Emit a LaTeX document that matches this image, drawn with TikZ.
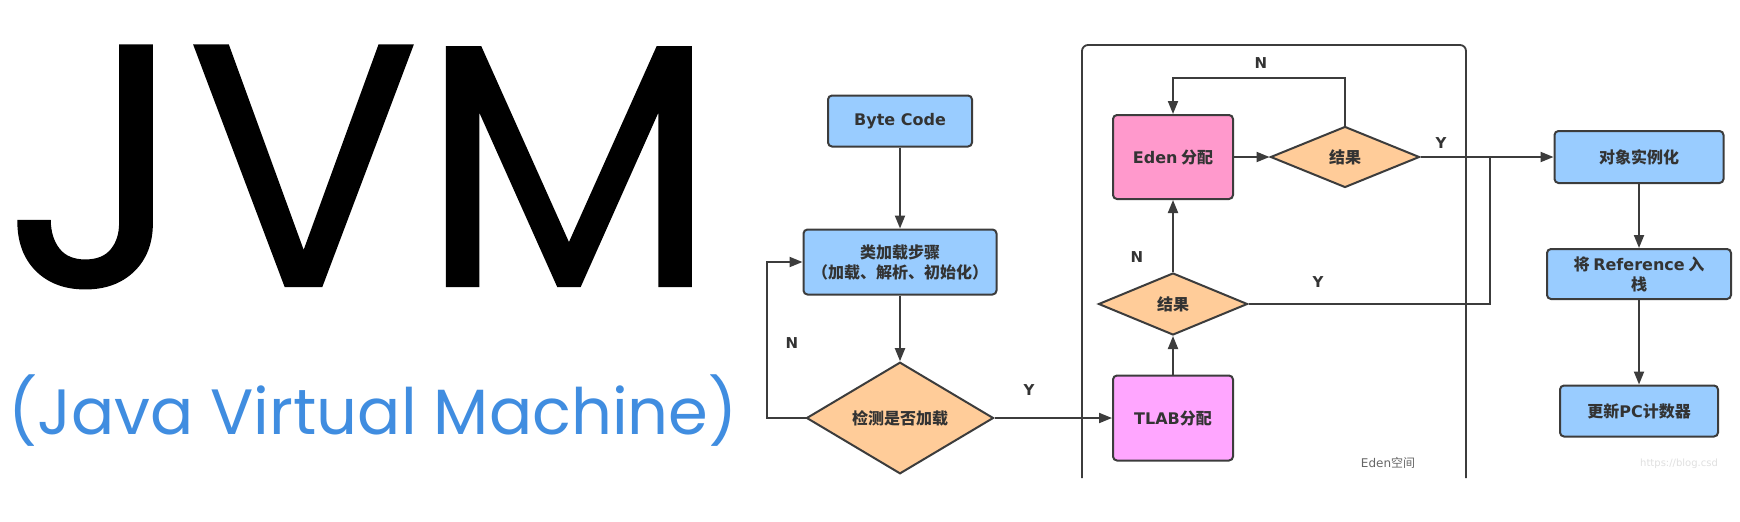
\documentclass[tikz,border=0pt]{standalone}
\usepackage{fontspec}
\usepackage{xcolor}
\usepackage{tikz}
\usetikzlibrary{shapes.geometric,arrows.meta}
\setmainfont{Poppins}
\newfontfamily\cjk{Noto Sans CJK SC}
\newfontfamily\lat{DejaVu Sans}
\newfontfamily\titlefont{Poppins}
\newfontfamily\jvmfont{Poppins}[FakeBold=0.6]

\definecolor{boxblue}{RGB}{153,204,255}
\definecolor{diaorange}{RGB}{255,204,153}
\definecolor{edenpink}{RGB}{255,153,204}
\definecolor{tlabpink}{RGB}{255,166,255}
\definecolor{linegray}{RGB}{60,60,60}
\definecolor{titleblue}{RGB}{64,141,224}

\begin{document}
\begin{tikzpicture}[x=1pt,y=-1pt,
  flowbox/.style={draw=linegray, line width=2pt, rounded corners=4pt, inner sep=0pt,
    font=\cjk\bfseries\fontsize{16}{20}\selectfont, text=black!80, align=center},
  decide/.style={diamond, draw=linegray, line width=2pt, fill=diaorange, inner sep=0pt,
    font=\cjk\bfseries\fontsize{16}{20}\selectfont, text=black!80},
  flow/.style={draw=linegray, line width=2pt, -{Triangle[length=13pt,width=10pt]}},
  joinline/.style={draw=linegray, line width=2pt},
  yn/.style={font=\lat\bfseries\fontsize{15}{19}\selectfont, text=black!80}]
\fill[white] (0,0) rectangle (1740,522);
\useasboundingbox (0,0) rectangle (1740,522);

% title
\node[anchor=base west, inner sep=0pt, text depth=0pt, font=\jvmfont\fontsize{345}{345}\selectfont] (jvm) at (4,286) {JVM};
\node[anchor=base west, inner sep=0pt, text=titleblue, font=\titlefont\fontsize{64}{64}\selectfont] (full) at (8,434) {(Java Virtual Machine)};

% eden space
\draw[joinline, line width=1.8pt, rounded corners=6pt] (1082,478) -- (1082,45) -- (1466,45) -- (1466,478);
\node[font=\lat\fontsize{12}{15}\selectfont, text=black!60] (edenlbl) at (1388,463) {Eden{\cjk 空间}};

% boxes
\node[flowbox, fill=boxblue, minimum width=144pt, minimum height=51pt] (bc) at (900,121) {\lat Byte Code};
\node[flowbox, fill=boxblue, minimum width=193pt, minimum height=65pt] (load) at (900,262) {类加载步骤\\（加载、解析、初始化）};
\node[decide, minimum width=187pt, minimum height=89pt] (check) at (900,418) {检测是否加载};

\node[flowbox, fill=edenpink, minimum width=120pt, minimum height=84pt] (eden) at (1173,157) {{\lat Eden} 分配};
\node[decide, minimum width=149pt, minimum height=61pt] (res1) at (1345,157) {结果};
\node[decide, minimum width=149pt, minimum height=62pt] (res2) at (1173,304) {结果};
\node[flowbox, fill=tlabpink, minimum width=120pt, minimum height=85pt] (tlab) at (1173,418) {{\lat TLAB}分配};

\node[flowbox, fill=boxblue, minimum width=169pt, minimum height=52pt] (obj) at (1639,157) {对象实例化};
\node[flowbox, fill=boxblue, minimum width=184pt, minimum height=50pt] (ref) at (1639,274) {将 {\lat Reference} 入\\栈};
\node[flowbox, fill=boxblue, minimum width=158pt, minimum height=51pt] (pc) at (1639,411) {更新{\lat PC}计数器};

\coordinate (join) at (1490,157);

% connectors
\draw[flow] (bc) -- (load);
\draw[flow] (load) -- (check);
\draw[flow] (check.west) -- ++(-39,0) |- (load.west);
\draw[flow] (check) -- (tlab);
\draw[flow] (tlab) -- (res2);
\draw[flow] (res2) -- (eden);
\draw[flow] (eden) -- (res1);
\draw[flow] (res1.north) -- ++(0,-48) -| (eden.north);
\draw[flow] (res1) -- (obj);
\draw[joinline] (res2.east) -| (join);
\draw[flow] (obj) -- (ref);
\draw[flow] (ref) -- (pc);

% labels
\node[yn] (n1) at (792,343) {N};
\node[yn] (y1) at (1029,390) {Y};
\node[yn] (n2) at (1261,63) {N};
\node[yn] (y2) at (1441,143) {Y};
\node[yn] (n3) at (1137,257) {N};
\node[yn] (y3) at (1318,282) {Y};

\node[anchor=west, inner sep=0pt, font=\lat\fontsize{10}{12}\selectfont, text=black!12] (mark) at (1640,464) {https://blog.csd};
\end{tikzpicture}
\end{document}
